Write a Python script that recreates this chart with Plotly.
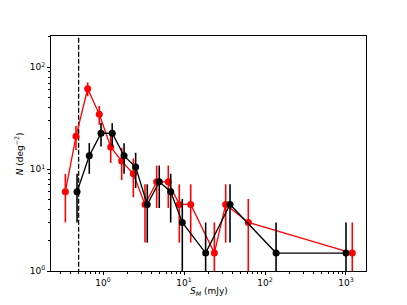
import plotly.graph_objects as go

# Red series
red_x = [0.343, 0.464, 0.647, 0.90, 1.245, 1.70, 2.37, 3.30, 4.60, 6.40, 8.75, 12.1, 23.7, 32.7, 62.2, 1196]
red_y = [6.0, 21.0, 61.5, 34.5, 16.5, 12.0, 9.0, 4.5, 7.5, 7.5, 4.5, 4.5, 1.5, 4.5, 3.0, 1.5]
red_err = [3.0, 5.6, 9.6, 7.2, 5.0, 4.2, 3.7, 2.6, 3.35, 3.35, 2.6, 2.6, 1.5, 2.6, 2.1, 1.5]

# Black series
blk_x = [0.478, 0.677, 0.945, 1.30, 1.82, 2.53, 3.52, 4.95, 6.85, 9.53, 18.5, 37.0, 137, 1000]
blk_y = [6.0, 13.5, 22.5, 22.5, 13.5, 10.5, 4.5, 7.5, 6.0, 3.0, 1.5, 4.5, 1.5, 1.5]
blk_err = [3.0, 4.5, 5.8, 5.8, 4.5, 3.97, 2.6, 3.35, 3.0, 2.1, 1.5, 2.6, 1.5, 1.5]

cut_x = 0.5

x_major = [1, 10, 100, 1000]
x_major_text = ["10<sup>0</sup>", "10<sup>1</sup>", "10<sup>2</sup>", "10<sup>3</sup>"]
y_major = [1, 10, 100]
y_major_text = ["10<sup>0</sup>", "10<sup>1</sup>", "10<sup>2</sup>"]

x_minor = [m * 10 ** e for e in range(-1, 4) for m in range(2, 10)]
y_minor = [m * 10 ** e for e in range(0, 3) for m in range(2, 10)]

fig = go.Figure()

fig.add_trace(go.Scatter(
    x=[cut_x, cut_x], y=[0.5, 1000], mode="lines",
    line=dict(color="black", width=1.3, dash="5px,2px"),
    hoverinfo="skip", showlegend=False))

fig.add_trace(go.Scatter(
    x=red_x, y=red_y, mode="lines+markers",
    line=dict(color="red", width=1.3),
    marker=dict(color="red", size=7),
    error_y=dict(type="data", array=red_err, color="red", thickness=1.6, width=0),
    showlegend=False))

fig.add_trace(go.Scatter(
    x=blk_x, y=blk_y, mode="lines+markers",
    line=dict(color="black", width=1.3),
    marker=dict(color="black", size=7),
    error_y=dict(type="data", array=blk_err, color="black", thickness=1.6, width=0),
    showlegend=False))

axis_common = dict(
    type="log", showgrid=False, zeroline=False,
    showline=True, linecolor="black", linewidth=1, mirror=True,
    ticks="outside", ticklen=3, tickwidth=0.8, tickcolor="black",
    tickfont=dict(family="DejaVu Sans", size=9, color="black"),
)

fig.update_xaxes(**axis_common, range=[-0.642, 3.247],
                 tickmode="array", tickvals=x_major, ticktext=x_major_text,
                 minor=dict(tickmode="array", tickvals=x_minor, ticks="outside",
                            ticklen=2, tickwidth=0.6, tickcolor="black"))
fig.update_yaxes(**axis_common, range=[0, 2.307],
                 tickmode="array", tickvals=y_major, ticktext=y_major_text,
                 minor=dict(tickmode="array", tickvals=y_minor, ticks="outside",
                            ticklen=2, tickwidth=0.6, tickcolor="black"))

fig.update_layout(
    width=399, height=297,
    margin=dict(l=43, r=41, t=28, b=34),
    plot_bgcolor="white", paper_bgcolor="white",
    font=dict(family="DejaVu Sans", size=9, color="black"),
    annotations=[
        dict(text="<i>S<sub>M</sub></i> (mJy)", xref="paper", yref="paper",
             x=0.5, y=-0.089, xanchor="center", yanchor="middle", showarrow=False,
             font=dict(family="DejaVu Sans", size=9, color="black")),
        dict(text="<i>N</i> (deg<sup>−2</sup>)", xref="paper", yref="paper",
             x=-0.102, y=0.5, xanchor="center", yanchor="middle", showarrow=False,
             textangle=-90,
             font=dict(family="DejaVu Sans", size=9, color="black")),
    ],
)

fig.write_html("out.html")
